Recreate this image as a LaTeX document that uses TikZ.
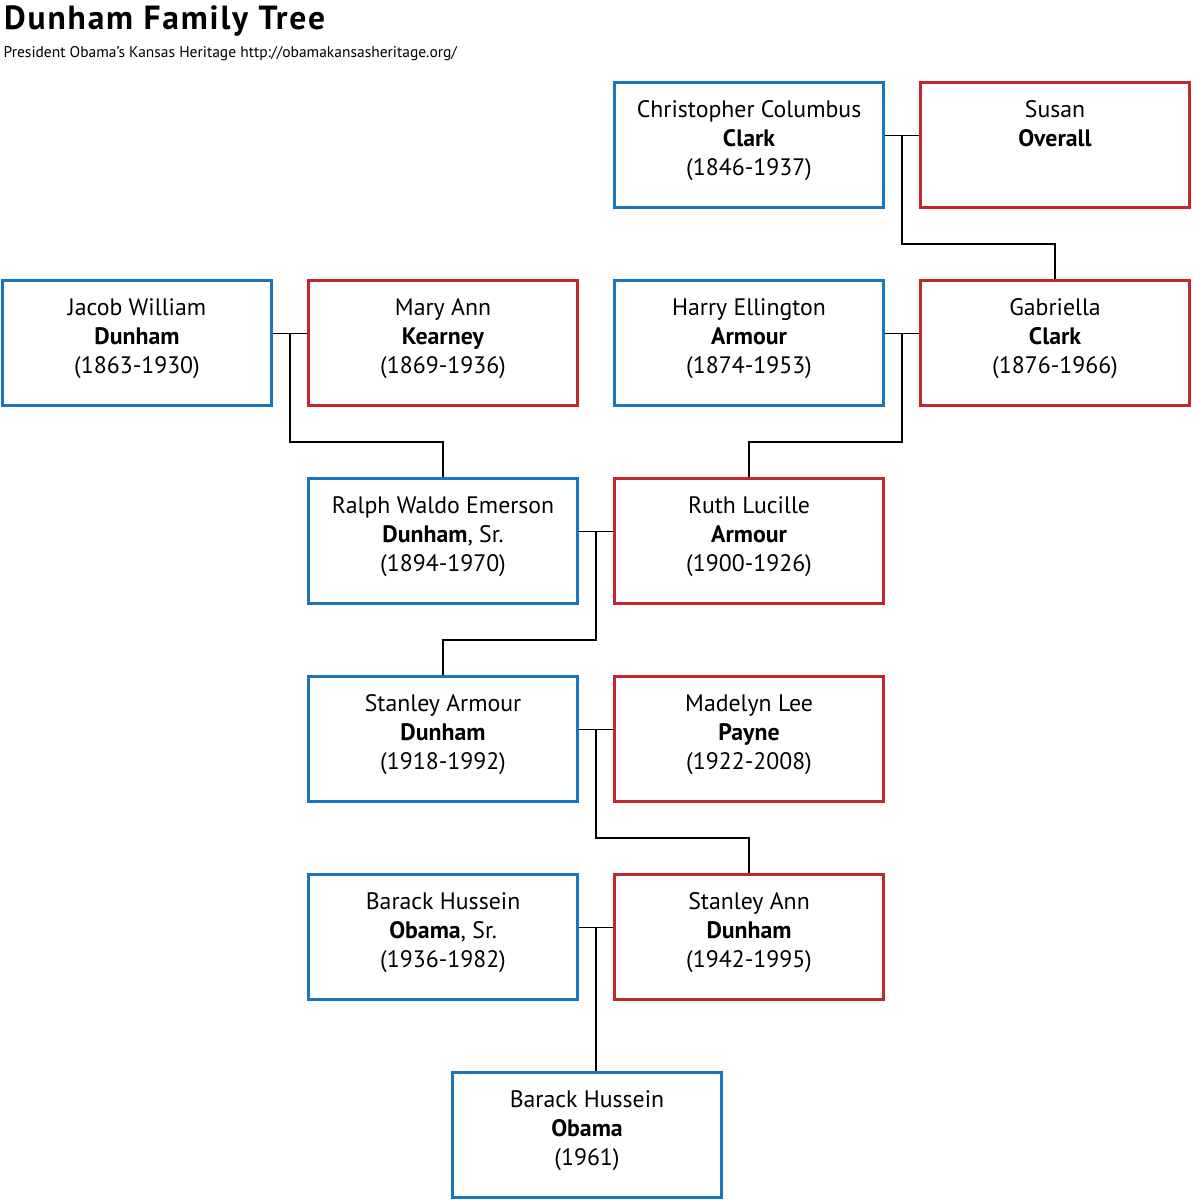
\documentclass[tikz,border=0pt]{standalone}
\usepackage{fontspec}
\setmainfont{PT Sans}
\usetikzlibrary{calc}
\definecolor{mblue}{RGB}{27,117,188}
\definecolor{fred}{RGB}{193,39,45}
\newcommand{\boxfont}{\fontsize{23.8}{29}\selectfont}
\tikzset{
  person/.style={draw, line width=3pt, minimum width=269.5pt, minimum height=124.5pt,
    inner sep=0pt},
  male/.style={person, draw=mblue},
  female/.style={person, draw=fred},
  ptext/.style={inner sep=0pt, align=center, font=\boxfont, text=black},
  link/.style={draw=black, line width=1.5pt}
}
\newcommand{\famnode}[4]{%
  \node[#1] (#2) at (#3) {};
  \node[ptext] (#2-t) at ([yshift=4.5pt]#2.center) {\strut#4\strut};
}
\begin{document}
\begin{tikzpicture}[x=1pt,y=-1pt]
\useasboundingbox (0,0) rectangle (1192,1200);
\node[anchor=base west, inner sep=0pt, font=\fontsize{33.5}{38}\selectfont\bfseries\addfontfeature{LetterSpace=5.5}] (title) at (4,29.3) {Dunham Family Tree};
\node[anchor=base west, font=\fontsize{15.5}{18}\selectfont, inner sep=0pt] (sub) at (3.5,57) {President Obama’s Kansas Heritage http://obamakansasheritage.org/};

\famnode{male}{ccc}{749.05,144.75}{Christopher Columbus\\\textbf{Clark}\\(1846-1937)}
\famnode{female}{so}{1055.05,144.75}{Susan\\\textbf{Overall}\\}
\famnode{male}{jwd}{137.05,342.75}{Jacob William\\\textbf{Dunham}\\(1863-1930)}
\famnode{female}{mak}{443.05,342.75}{Mary Ann\\\textbf{Kearney}\\(1869-1936)}
\famnode{male}{hea}{749.05,342.75}{Harry Ellington\\\textbf{Armour}\\(1874-1953)}
\famnode{female}{gc}{1055.05,342.75}{Gabriella\\\textbf{Clark}\\(1876-1966)}
\famnode{male}{rwe}{443.05,540.75}{Ralph Waldo Emerson\\\textbf{Dunham}, Sr.\\(1894-1970)}
\famnode{female}{rla}{749.05,540.75}{Ruth Lucille\\\textbf{Armour}\\(1900-1926)}
\famnode{male}{sad}{443.05,738.75}{Stanley Armour\\\textbf{Dunham}\\(1918-1992)}
\famnode{female}{mlp}{749.05,738.75}{Madelyn Lee\\\textbf{Payne}\\(1922-2008)}
\famnode{male}{bhs}{443.05,936.75}{Barack Hussein\\\textbf{Obama}, Sr.\\(1936-1982)}
\famnode{female}{sand}{749.05,936.75}{Stanley Ann\\\textbf{Dunham}\\(1942-1995)}
\famnode{male}{bho}{587,1134.75}{Barack Hussein\\\textbf{Obama}\\(1961)}

% couples
\draw[link] ([yshift=9.25pt]ccc.east) -- ([yshift=9.25pt]so.west);
\draw[link] ([yshift=9.25pt]jwd.east) -- ([yshift=9.25pt]mak.west);
\draw[link] ([yshift=9.25pt]hea.east) -- ([yshift=9.25pt]gc.west);
\draw[link] ([yshift=9.25pt]rwe.east) -- ([yshift=9.25pt]rla.west);
\draw[link] ([yshift=9.25pt]sad.east) -- ([yshift=9.25pt]mlp.west);
\draw[link] ([yshift=9.25pt]bhs.east) -- ([yshift=9.25pt]sand.west);

\coordinate (m0) at ([yshift=9.25pt]$(ccc.east)!0.5!(so.west)$);
\coordinate (m1) at ([yshift=9.25pt]$(jwd.east)!0.5!(mak.west)$);
\coordinate (m2) at ([yshift=9.25pt]$(hea.east)!0.5!(gc.west)$);
\coordinate (m3) at ([yshift=9.25pt]$(rwe.east)!0.5!(rla.west)$);
\coordinate (m4) at ([yshift=9.25pt]$(sad.east)!0.5!(mlp.west)$);
\coordinate (m5) at ([yshift=9.25pt]$(bhs.east)!0.5!(sand.west)$);

\coordinate (g0) at ($(so.south)!0.5!(gc.north)$);
\coordinate (g1) at ($(mak.south)!0.5!(rwe.north)$);
\coordinate (g2) at ($(gc.south)!0.5!(rla.north)$);
\coordinate (g3) at ($(rla.south)!0.5!(sad.north)$);
\coordinate (g4) at ($(mlp.south)!0.5!(sand.north)$);

\draw[link] (m0) -- (m0 |- g0) -| (gc.north);
\draw[link] (m1) -- (m1 |- g1) -| (rwe.north);
\draw[link] (m2) -- (m2 |- g2) -| (rla.north);
\draw[link] (m3) -- (m3 |- g3) -| (sad.north);
\draw[link] (m4) -- (m4 |- g4) -| (sand.north);
\draw[link] (m5) -- (m5 |- bho.north);
\end{tikzpicture}
\end{document}
